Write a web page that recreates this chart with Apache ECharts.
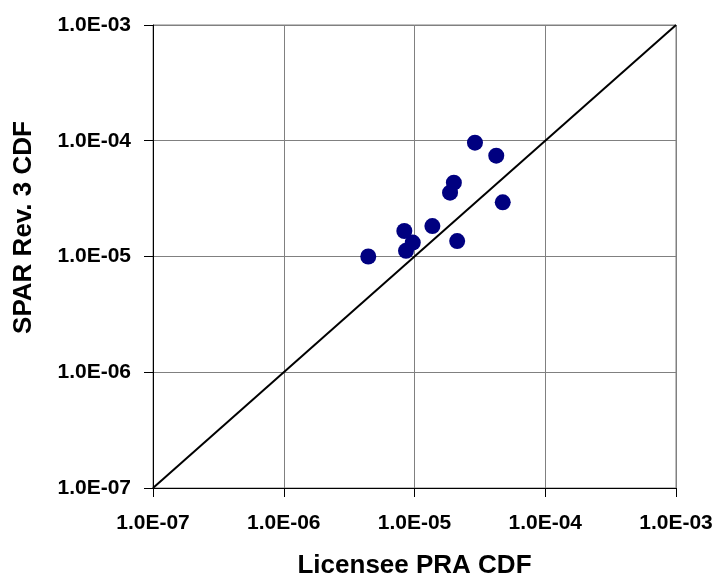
<!DOCTYPE html>
<html><head><meta charset="utf-8">
<script src="https://cdn.jsdelivr.net/npm/echarts@6/dist/echarts.min.js"></script>
<style>html,body{margin:0;padding:0;background:#fff}#c{width:718px;height:579px}</style>
</head><body><div id="c"></div>
<script>
const licenseeCDF = [4.43e-6, 8.36e-6, 8.61e-6, 9.7e-6, 1.37e-5, 1.87e-5, 2.0e-5, 2.12e-5, 2.9e-5, 4.22e-5, 4.73e-5];
const sparCDF     = [1.0e-5, 1.66e-5, 1.12e-5, 1.32e-5, 1.83e-5, 3.56e-5, 4.34e-5, 1.36e-5, 9.62e-5, 7.43e-5, 2.94e-5];
const diagonal = [[1e-7, 1e-7], [1e-3, 1e-3]];
const axisMin = 1e-7, axisMax = 1e-3;
const xName = 'Licensee PRA CDF';
const yName = 'SPAR Rev. 3 CDF';

function fmt(v){
  const e = Math.round(Math.log10(v));
  const s = Math.abs(e) < 10 ? '0' + Math.abs(e) : '' + Math.abs(e);
  return '1.0E' + (e < 0 ? '-' : '+') + s;
}
const font = 'Liberation Sans, Arial, sans-serif';
const axisCommon = {
  type: 'log', logBase: 10, min: axisMin, max: axisMax,
  axisLine: {show: true, lineStyle: {color: '#000', width: 1}},
  axisTick: {show: true, inside: false, length: 9, lineStyle: {color: '#000'}},
  minorTick: {show: false},
  splitLine: {show: true, lineStyle: {color: '#808080', width: 1}},
  axisLabel: {formatter: fmt, color: '#000', fontFamily: font, fontWeight: 'bold', fontSize: 21},
  nameTextStyle: {color: '#000', fontFamily: font, fontWeight: 'bold', fontSize: 26}
};
const chart = echarts.init(document.getElementById('c'), null, {renderer: 'canvas'});
chart.setOption({
  animation: false,
  backgroundColor: '#fff',
  grid: {left: 153, right: 42, top: 25, bottom: 91, containLabel: false, outerBoundsMode: 'none',
         show: true, borderColor: '#808080', borderWidth: 1},
  xAxis: Object.assign({}, axisCommon, {
    name: xName, nameLocation: 'middle', nameGap: 65,
    axisLabel: Object.assign({}, axisCommon.axisLabel, {margin: 25})
  }),
  yAxis: Object.assign({}, axisCommon, {
    name: yName, nameLocation: 'middle', nameGap: 116, nameRotate: 90,
    nameTextStyle: Object.assign({}, axisCommon.nameTextStyle, {padding: [0, 0, 0, 58]}),
    axisLabel: Object.assign({}, axisCommon.axisLabel, {margin: 22})
  }),
  series: [
    {type: 'line', data: diagonal, symbol: 'none', lineStyle: {color: '#000', width: 2}, z: 2},
    {type: 'scatter', data: licenseeCDF.map((x, i) => [x, sparCDF[i]]), symbolSize: 16,
     itemStyle: {color: '#000080', opacity: 1}, z: 3}
  ]
});
</script></body></html>
